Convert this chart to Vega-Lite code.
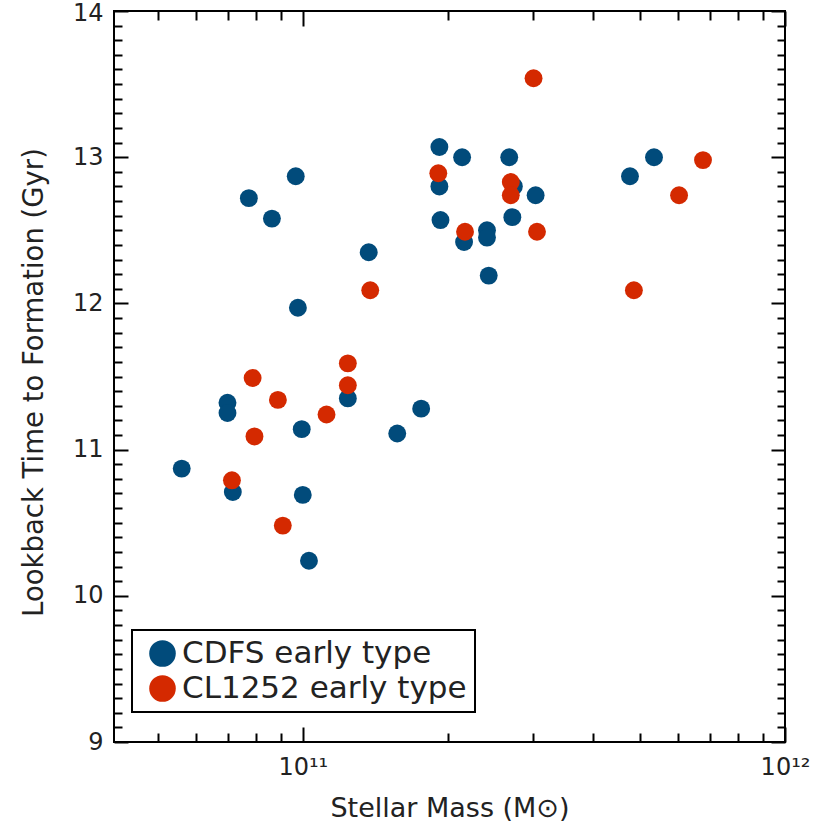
{
  "$schema": "https://vega.github.io/schema/vega-lite/v6.json",
  "autosize": "none",
  "width": 671,
  "height": 731,
  "padding": {"left": 114, "top": 11, "right": 40, "bottom": 83},
  "background": "white",
  "config": {
    "view": {"stroke": "black", "strokeWidth": 2},
    "font": "DejaVu Sans",
    "axis": {
      "domain": false, "tickColor": "black", "tickWidth": 2,
      "grid": false, "labelFont": "DejaVu Sans", "labelColor": "#222", "labelFontSize": 24,
      "titleFont": "DejaVu Sans", "titleColor": "#222", "titleFontSize": 27, "titleFontWeight": "normal",
      "labelFlush": false, "labelOverlap": false
    }
  },
  "datasets": {
    "galaxies": [
      {"sample": "CDFS early type", "mass": 5.61e10, "age": 10.87},
      {"sample": "CDFS early type", "mass": 7.73e10, "age": 12.72},
      {"sample": "CDFS early type", "mass": 8.63e10, "age": 12.58},
      {"sample": "CDFS early type", "mass": 9.67e10, "age": 12.87},
      {"sample": "CDFS early type", "mass": 9.77e10, "age": 11.97},
      {"sample": "CDFS early type", "mass": 1.37e11, "age": 12.35},
      {"sample": "CDFS early type", "mass": 1.92e11, "age": 13.07},
      {"sample": "CDFS early type", "mass": 1.92e11, "age": 12.80},
      {"sample": "CDFS early type", "mass": 1.93e11, "age": 12.57},
      {"sample": "CDFS early type", "mass": 2.14e11, "age": 13.00},
      {"sample": "CDFS early type", "mass": 2.16e11, "age": 12.42},
      {"sample": "CDFS early type", "mass": 2.68e11, "age": 13.00},
      {"sample": "CDFS early type", "mass": 2.41e11, "age": 12.50},
      {"sample": "CDFS early type", "mass": 2.41e11, "age": 12.45},
      {"sample": "CDFS early type", "mass": 2.43e11, "age": 12.19},
      {"sample": "CDFS early type", "mass": 2.72e11, "age": 12.59},
      {"sample": "CDFS early type", "mass": 2.74e11, "age": 12.80},
      {"sample": "CDFS early type", "mass": 3.04e11, "age": 12.74},
      {"sample": "CDFS early type", "mass": 4.77e11, "age": 12.87},
      {"sample": "CDFS early type", "mass": 5.35e11, "age": 13.00},
      {"sample": "CDFS early type", "mass": 6.98e10, "age": 11.32},
      {"sample": "CDFS early type", "mass": 6.98e10, "age": 11.25},
      {"sample": "CDFS early type", "mass": 7.16e10, "age": 10.71},
      {"sample": "CDFS early type", "mass": 9.95e10, "age": 11.14},
      {"sample": "CDFS early type", "mass": 1.0e11, "age": 10.69},
      {"sample": "CDFS early type", "mass": 1.03e11, "age": 10.24},
      {"sample": "CDFS early type", "mass": 1.24e11, "age": 11.35},
      {"sample": "CDFS early type", "mass": 1.57e11, "age": 11.11},
      {"sample": "CDFS early type", "mass": 1.76e11, "age": 11.28},
      {"sample": "CL1252 early type", "mass": 1.91e11, "age": 12.89},
      {"sample": "CL1252 early type", "mass": 2.17e11, "age": 12.49},
      {"sample": "CL1252 early type", "mass": 1.38e11, "age": 12.09},
      {"sample": "CL1252 early type", "mass": 1.24e11, "age": 11.59},
      {"sample": "CL1252 early type", "mass": 1.24e11, "age": 11.44},
      {"sample": "CL1252 early type", "mass": 7.87e10, "age": 11.49},
      {"sample": "CL1252 early type", "mass": 8.88e10, "age": 11.34},
      {"sample": "CL1252 early type", "mass": 1.12e11, "age": 11.24},
      {"sample": "CL1252 early type", "mass": 7.94e10, "age": 11.09},
      {"sample": "CL1252 early type", "mass": 7.13e10, "age": 10.79},
      {"sample": "CL1252 early type", "mass": 9.09e10, "age": 10.48},
      {"sample": "CL1252 early type", "mass": 3.01e11, "age": 13.54},
      {"sample": "CL1252 early type", "mass": 2.70e11, "age": 12.83},
      {"sample": "CL1252 early type", "mass": 2.70e11, "age": 12.74},
      {"sample": "CL1252 early type", "mass": 3.06e11, "age": 12.49},
      {"sample": "CL1252 early type", "mass": 4.86e11, "age": 12.09},
      {"sample": "CL1252 early type", "mass": 6.03e11, "age": 12.74},
      {"sample": "CL1252 early type", "mass": 6.76e11, "age": 12.98}
    ]
  },
  "resolve": {"axis": {"x": "independent", "y": "independent"}},
  "layer": [
    {
      "data": {"name": "galaxies"},
      "mark": {"type": "circle", "opacity": 1, "size": 320},
      "encoding": {
        "x": {
          "field": "mass", "type": "quantitative",
          "scale": {"type": "log", "domain": [4.06e10, 1e12], "nice": false, "zero": false},
          "axis": {
            "orient": "bottom",
            "values": [1e11, 1e12],
            "offset": -15, "tickSize": 15,
            "labelExpr": "datum.value == 1e11 ? '10¹¹' : '10¹²'",
            "labelPadding": 13,
            "title": "Stellar Mass (M⊙)",
            "titlePadding": 16
          }
        },
        "y": {
          "field": "age", "type": "quantitative",
          "scale": {"domain": [9, 14], "nice": false, "zero": false},
          "axis": {
            "orient": "left",
            "values": [9, 10, 11, 12, 13, 14],
            "offset": -14, "tickSize": 14,
            "labelPadding": 11,
            "labelOffset": {"condition": {"test": "datum.value == 14", "value": 2}, "value": 0},
            "title": "Lookback Time to Formation (Gyr)",
            "titleFontSize": 27.5,
            "titlePadding": 24,
            "titleY": 371
          }
        },
        "color": {
          "field": "sample", "type": "nominal",
          "scale": {"domain": ["CDFS early type", "CL1252 early type"], "range": ["#014b7b", "#d42900"]},
          "legend": {
            "title": null, "orient": "none", "legendX": 18, "legendY": 619,
            "symbolType": "circle", "symbolSize": 707, "symbolStrokeWidth": 0, "symbolOpacity": 1,
            "labelFont": "DejaVu Sans", "labelFontSize": 31, "labelColor": "#222", "labelOffset": 4,
            "labelLimit": 0,
            "rowPadding": 3, "padding": 8, "symbolOffset": 7,
            "strokeColor": "black",
            "encode": {"legend": {"update": {"strokeWidth": {"value": 2}}}}
          }
        }
      }
    },
    {
      "mark": {"type": "rule", "color": "black", "strokeWidth": 2},
      "encoding": {
        "x": {
          "datum": 4.06e10,
          "scale": {"type": "log", "domain": [4.06e10, 1e12], "nice": false, "zero": false},
          "axis": {"orient": "top", "title": null, "labels": false, "values": [1e11, 1e12], "offset": -15, "tickSize": 15}
        },
        "x2": {"datum": 1e12},
        "y": {
          "datum": 13.67,
          "scale": {"domain": [9, 14], "nice": false, "zero": false},
          "axis": {"orient": "right", "title": null, "labels": false, "values": [9, 10, 11, 12, 13, 14], "offset": -14, "tickSize": 14}
        }
      }
    },
    {
      "mark": {"type": "rule", "color": "black", "strokeWidth": 2, "opacity": 0},
      "encoding": {
        "x": {
          "datum": 4.06e10,
          "scale": {"type": "log", "domain": [4.06e10, 1e12], "nice": false, "zero": false},
          "axis": {"orient": "bottom", "title": null, "labels": false,
            "values": [5e10, 6e10, 7e10, 8e10, 9e10, 2e11, 3e11, 4e11, 5e11, 6e11, 7e11, 8e11, 9e11], "offset": -9, "tickSize": 9}
        },
        "x2": {"datum": 1e12},
        "y": {
          "datum": 13.67,
          "scale": {"domain": [9, 14], "nice": false, "zero": false},
          "axis": {"orient": "left", "title": null, "labels": false,
            "values": [9.1, 9.2, 9.3, 9.4, 9.5, 9.6, 9.7, 9.8, 9.9, 10.1, 10.2, 10.3, 10.4, 10.5, 10.6, 10.7, 10.8, 10.9, 11.1, 11.2, 11.3, 11.4, 11.5, 11.6, 11.7, 11.8, 11.9, 12.1, 12.2, 12.3, 12.4, 12.5, 12.6, 12.7, 12.8, 12.9, 13.1, 13.2, 13.3, 13.4, 13.5, 13.6, 13.7, 13.8, 13.9],
            "offset": -8, "tickSize": 8}
        }
      }
    },
    {
      "mark": {"type": "rule", "color": "black", "strokeWidth": 2, "opacity": 0},
      "encoding": {
        "x": {
          "datum": 4.06e10,
          "scale": {"type": "log", "domain": [4.06e10, 1e12], "nice": false, "zero": false},
          "axis": {"orient": "top", "title": null, "labels": false,
            "values": [5e10, 6e10, 7e10, 8e10, 9e10, 2e11, 3e11, 4e11, 5e11, 6e11, 7e11, 8e11, 9e11], "offset": -9, "tickSize": 9}
        },
        "x2": {"datum": 1e12},
        "y": {
          "datum": 13.67,
          "scale": {"domain": [9, 14], "nice": false, "zero": false},
          "axis": {"orient": "right", "title": null, "labels": false,
            "values": [9.1, 9.2, 9.3, 9.4, 9.5, 9.6, 9.7, 9.8, 9.9, 10.1, 10.2, 10.3, 10.4, 10.5, 10.6, 10.7, 10.8, 10.9, 11.1, 11.2, 11.3, 11.4, 11.5, 11.6, 11.7, 11.8, 11.9, 12.1, 12.2, 12.3, 12.4, 12.5, 12.6, 12.7, 12.8, 12.9, 13.1, 13.2, 13.3, 13.4, 13.5, 13.6, 13.7, 13.8, 13.9],
            "offset": -8, "tickSize": 8}
        }
      }
    }
  ]
}
